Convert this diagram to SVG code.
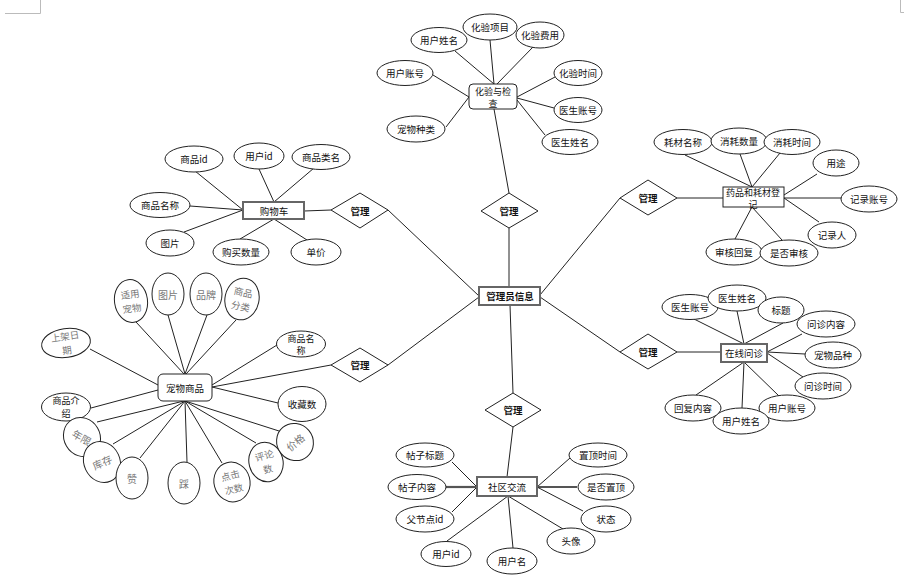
<svg xmlns="http://www.w3.org/2000/svg" width="904" height="577" viewBox="0 0 904 577">
<style>
text{font-family:"Noto Sans CJK SC","Noto Sans",sans-serif;font-size:9.5px;fill:#111;text-anchor:middle;dominant-baseline:central}
.b{font-weight:bold;font-size:9.5px}
.g{fill:#777;font-size:10px}
.s{font-size:9px}
.gs{fill:#777;font-size:9.5px}
.e{fill:#fff;stroke:#222;stroke-width:1}
.d{fill:#fff;stroke:#222;stroke-width:1}
.r{fill:#fff;stroke:#222;stroke-width:1}
.rt{fill:#fff;stroke:#666;stroke-width:2}
#connectors line{stroke:#222;stroke-width:1}
#connectors line.t{stroke:#555;stroke-width:2.2}
.mark{stroke:#bbb;stroke-width:1;fill:none}
</style>
<rect width="904" height="577" fill="#fff"/>
<path class="mark" d="M5 13.5H40.5V0M900.5 0V12.5H904"/>
<g id="connectors">
<line x1="509" y1="287" x2="509" y2="228"/>
<line x1="479" y1="296" x2="388" y2="210"/>
<line x1="479" y1="297" x2="388" y2="365"/>
<line x1="510" y1="305" x2="513" y2="393"/>
<line x1="540" y1="295" x2="620" y2="198"/>
<line x1="540" y1="297" x2="620" y2="352"/>
<line x1="509" y1="193" x2="494" y2="109"/>
<line x1="331" y1="210" x2="304" y2="211"/>
<line x1="331" y1="365" x2="212" y2="387"/>
<line x1="513" y1="427" x2="507" y2="477"/>
<line x1="677" y1="198" x2="723" y2="198"/>
<line x1="677" y1="352" x2="721" y2="352"/>
<line x1="455" y1="51" x2="494" y2="84"/>
<line x1="490" y1="40" x2="494" y2="84"/>
<line x1="533" y1="47" x2="497" y2="84"/>
<line x1="433" y1="75" x2="469" y2="97"/>
<line x1="446" y1="127" x2="469" y2="97"/>
<line x1="555" y1="77" x2="517" y2="97"/>
<line x1="554" y1="108" x2="517" y2="98"/>
<line x1="545" y1="135" x2="517" y2="100"/>
<line x1="195" y1="171" x2="243" y2="210"/>
<line x1="259" y1="169" x2="274" y2="202"/>
<line x1="314" y1="168" x2="274" y2="202"/>
<line x1="190" y1="206" x2="243" y2="210"/>
<line x1="184" y1="232" x2="243" y2="210"/>
<line x1="240" y1="239" x2="274" y2="219"/>
<line x1="307" y1="240" x2="274" y2="219"/>
<line x1="685" y1="155" x2="752" y2="187"/>
<line x1="740" y1="154" x2="752" y2="187"/>
<line x1="780" y1="153" x2="752" y2="187"/>
<line x1="817" y1="174" x2="784" y2="195"/>
<line x1="842" y1="198" x2="784" y2="198"/>
<line x1="819" y1="222" x2="784" y2="198"/>
<line x1="735" y1="239" x2="752" y2="207"/>
<line x1="782" y1="240" x2="752" y2="207"/>
<line x1="694" y1="319" x2="744" y2="344"/>
<line x1="737" y1="311" x2="744" y2="344"/>
<line x1="783" y1="323" x2="744" y2="344"/>
<line x1="802" y1="334" x2="767" y2="352"/>
<line x1="805" y1="354" x2="767" y2="352"/>
<line x1="803" y1="377" x2="767" y2="353"/>
<line x1="779" y1="396" x2="744" y2="362"/>
<line x1="742" y1="408" x2="744" y2="362"/>
<line x1="696" y1="395" x2="744" y2="362"/>
<line x1="452" y1="462" x2="477" y2="487"/>
<line class="t" x1="446" y1="487" x2="477" y2="487"/>
<line x1="452" y1="512" x2="477" y2="487"/>
<line x1="570" y1="458" x2="537" y2="487"/>
<line class="t" x1="577" y1="487" x2="537" y2="487"/>
<line x1="583" y1="511" x2="537" y2="487"/>
<line x1="563" y1="529" x2="508" y2="496"/>
<line x1="513" y1="548" x2="508" y2="496"/>
<line x1="447" y1="541" x2="508" y2="496"/>
<line x1="136" y1="322" x2="184" y2="374"/>
<line x1="168" y1="315" x2="185" y2="374"/>
<line x1="207" y1="315" x2="185" y2="374"/>
<line x1="236" y1="320" x2="186" y2="374"/>
<line x1="90" y1="349" x2="158" y2="385"/>
<line x1="277" y1="345" x2="212" y2="385"/>
<line x1="278" y1="403" x2="212" y2="387"/>
<line x1="91" y1="408" x2="158" y2="390"/>
<line x1="97" y1="422" x2="184" y2="401"/>
<line x1="113" y1="444" x2="185" y2="401"/>
<line x1="140" y1="458" x2="185" y2="401"/>
<line x1="187" y1="462" x2="185" y2="401"/>
<line x1="222" y1="463" x2="185" y2="401"/>
<line x1="256" y1="443" x2="185" y2="401"/>
<line x1="279" y1="431" x2="185" y2="401"/>
</g>

<g id="admin"><rect class="rt" x="479" y="287" width="61" height="18"/><text class="b" x="510" y="296">管理员信息</text></g>

<g id="rel-top"><polygon class="d" points="481,211 509,193 538,211 509,228"/><text class="b" x="509" y="211">管理</text></g>
<g id="rel-cart"><polygon class="d" points="331,210 360,193 388,210 360,228"/><text class="b" x="360" y="211">管理</text></g>
<g id="rel-pet"><polygon class="d" points="331,365 360,348 388,365 360,382"/><text class="b" x="360" y="365">管理</text></g>
<g id="rel-bottom"><polygon class="d" points="485,410 513,393 541,410 513,427"/><text class="b" x="513" y="410">管理</text></g>
<g id="rel-drug"><polygon class="d" points="620,198 648,180 677,198 648,215"/><text class="b" x="648" y="198">管理</text></g>
<g id="rel-consult"><polygon class="d" points="620,352 648,334 677,352 648,369"/><text class="b" x="648" y="352">管理</text></g>

<g id="lab"><rect class="r" x="469" y="84" width="48" height="25" rx="4"/><text class="s" x="493" y="91">化验与检</text><text class="s" x="493" y="103">查</text></g>
<g id="lab-a1"><ellipse class="e" cx="439" cy="40" rx="28" ry="12.5"/><text x="439" y="40">用户姓名</text></g>
<g id="lab-a2"><ellipse class="e" cx="490" cy="27" rx="27" ry="13"/><text x="490" y="27">化验项目</text></g>
<g id="lab-a3"><ellipse class="e" cx="540" cy="35" rx="24" ry="13"/><text x="540" y="35">化验费用</text></g>
<g id="lab-a4"><ellipse class="e" cx="405" cy="73" rx="28" ry="12.5"/><text x="405" y="73">用户账号</text></g>
<g id="lab-a5"><ellipse class="e" cx="578" cy="73" rx="24" ry="12.5"/><text x="578" y="73">化验时间</text></g>
<g id="lab-a6"><ellipse class="e" cx="578" cy="110" rx="24" ry="12.5"/><text x="578" y="110">医生账号</text></g>
<g id="lab-a7"><ellipse class="e" cx="570" cy="142" rx="28" ry="12.5"/><text x="570" y="142">医生姓名</text></g>
<g id="lab-a8"><ellipse class="e" cx="416" cy="129" rx="29" ry="13"/><text x="416" y="129">宠物种类</text></g>

<g id="cart"><rect class="rt" x="243" y="202" width="61" height="17"/><text x="274" y="211">购物车</text></g>
<g id="cart-a1"><ellipse class="e" cx="194" cy="159" rx="29" ry="13"/><text x="194" y="159">商品id</text></g>
<g id="cart-a2"><ellipse class="e" cx="259" cy="156" rx="25" ry="13"/><text x="259" y="156">用户id</text></g>
<g id="cart-a3"><ellipse class="e" cx="321" cy="157" rx="29" ry="12.5"/><text x="321" y="157">商品类名</text></g>
<g id="cart-a4"><ellipse class="e" cx="160" cy="205" rx="30" ry="12.5"/><text x="160" y="205">商品名称</text></g>
<g id="cart-a5"><ellipse class="e" cx="170" cy="243" rx="24" ry="13"/><text x="170" y="243">图片</text></g>
<g id="cart-a6"><ellipse class="e" cx="241" cy="252" rx="28" ry="13"/><text x="241" y="252">购买数量</text></g>
<g id="cart-a7"><ellipse class="e" cx="316" cy="252" rx="25" ry="13"/><text x="316" y="252">单价</text></g>

<g id="drug"><rect class="r" x="723" y="187" width="61" height="20"/><text class="s" x="753" y="192">药品和耗材登</text><text class="s" x="753" y="204">记</text></g>
<g id="drug-a1"><ellipse class="e" cx="683" cy="142" rx="29" ry="12.5"/><text x="683" y="142">耗材名称</text></g>
<g id="drug-a2"><ellipse class="e" cx="739" cy="141" rx="28" ry="13"/><text x="739" y="141">消耗数量</text></g>
<g id="drug-a3"><ellipse class="e" cx="792" cy="142" rx="28" ry="12.5"/><text x="792" y="142">消耗时间</text></g>
<g id="drug-a4"><ellipse class="e" cx="836" cy="163" rx="23" ry="13"/><text x="836" y="163">用途</text></g>
<g id="drug-a5"><ellipse class="e" cx="869" cy="199" rx="28" ry="13"/><text x="869" y="199">记录账号</text></g>
<g id="drug-a6"><ellipse class="e" cx="832" cy="235" rx="24" ry="13"/><text x="832" y="235">记录人</text></g>
<g id="drug-a7"><ellipse class="e" cx="734" cy="252" rx="28" ry="13"/><text x="734" y="252">审核回复</text></g>
<g id="drug-a8"><ellipse class="e" cx="789" cy="253" rx="29" ry="13"/><text x="789" y="253">是否审核</text></g>

<g id="consult"><rect class="rt" x="721" y="344" width="46" height="18"/><text x="744" y="353">在线问诊</text></g>
<g id="con-a1"><ellipse class="e" cx="690" cy="307" rx="28" ry="12.5"/><text x="690" y="307">医生账号</text></g>
<g id="con-a2"><ellipse class="e" cx="737" cy="298" rx="29" ry="13"/><text x="737" y="298">医生姓名</text></g>
<g id="con-a3"><ellipse class="e" cx="781" cy="310" rx="23" ry="13"/><text x="781" y="310">标题</text></g>
<g id="con-a4"><ellipse class="e" cx="826" cy="324" rx="29" ry="13"/><text x="826" y="324">问诊内容</text></g>
<g id="con-a5"><ellipse class="e" cx="833" cy="355" rx="28" ry="13"/><text x="833" y="355">宠物品种</text></g>
<g id="con-a6"><ellipse class="e" cx="823" cy="386" rx="28" ry="13"/><text x="823" y="386">问诊时间</text></g>
<g id="con-a7"><ellipse class="e" cx="787" cy="408" rx="28" ry="13"/><text x="787" y="408">用户账号</text></g>
<g id="con-a8"><ellipse class="e" cx="741" cy="421" rx="28" ry="13"/><text x="741" y="421">用户姓名</text></g>
<g id="con-a9"><ellipse class="e" cx="693" cy="408" rx="28" ry="13"/><text x="693" y="408">回复内容</text></g>

<g id="forum"><rect class="rt" x="477" y="477" width="60" height="19"/><text x="507" y="487">社区交流</text></g>
<g id="for-a1"><ellipse class="e" cx="425" cy="455" rx="29" ry="12"/><text x="425" y="455">帖子标题</text></g>
<g id="for-a2"><ellipse class="e" cx="417" cy="487" rx="29" ry="12.5"/><text x="417" y="487">帖子内容</text></g>
<g id="for-a3"><ellipse class="e" cx="425" cy="519" rx="29" ry="13"/><text x="425" y="519">父节点id</text></g>
<g id="for-a4"><ellipse class="e" cx="446" cy="554" rx="25" ry="12.5"/><text x="446" y="554">用户id</text></g>
<g id="for-a5"><ellipse class="e" cx="512" cy="561" rx="25" ry="13"/><text x="512" y="561">用户名</text></g>
<g id="for-a6"><ellipse class="e" cx="571" cy="541" rx="24" ry="13"/><text x="571" y="541">头像</text></g>
<g id="for-a7"><ellipse class="e" cx="606" cy="519" rx="25" ry="13"/><text x="606" y="519">状态</text></g>
<g id="for-a8"><ellipse class="e" cx="606" cy="487" rx="28" ry="13"/><text x="606" y="487">是否置顶</text></g>
<g id="for-a9"><ellipse class="e" cx="598" cy="455" rx="29" ry="12"/><text x="598" y="455">置顶时间</text></g>

<g id="pet"><rect class="r" x="158" y="374" width="54" height="27" rx="5"/><text x="185" y="388">宠物商品</text></g>
<g id="pet-a1" transform="rotate(-8 131 301)"><ellipse class="e" cx="131" cy="301" rx="16.5" ry="21.5"/><text class="gs" x="131" y="294">适用</text><text class="gs" x="131" y="308">宠物</text></g>
<g id="pet-a2"><ellipse class="e" cx="168" cy="294" rx="16" ry="21"/><text class="g" x="168" y="294">图片</text></g>
<g id="pet-a3"><ellipse class="e" cx="206" cy="294" rx="16" ry="21"/><text class="g" x="206" y="294">品牌</text></g>
<g id="pet-a4" transform="rotate(12 242 299)"><ellipse class="e" cx="242" cy="299" rx="17" ry="21"/><text class="gs" x="242" y="292">商品</text><text class="gs" x="242" y="306">分类</text></g>
<g id="pet-a5" transform="rotate(-8 66 343)"><ellipse class="e" cx="66" cy="343" rx="24.5" ry="14.5"/><text class="gs" x="66" y="336">上架日</text><text class="gs" x="66" y="350">期</text></g>
<g id="pet-a6"><ellipse class="e" cx="301" cy="344" rx="24.5" ry="13"/><text class="s" x="301" y="338">商品名</text><text class="s" x="301" y="350">称</text></g>
<g id="pet-a7"><ellipse class="e" cx="66" cy="407" rx="24.5" ry="14"/><text class="s" x="66" y="400.5">商品介</text><text class="s" x="66" y="413.5">绍</text></g>
<g id="pet-a8"><ellipse class="e" cx="302" cy="404" rx="24" ry="17.5"/><text x="302" y="404">收藏数</text></g>
<g id="pet-a9" transform="rotate(-30 82 437)"><ellipse class="e" cx="82" cy="437" rx="18" ry="20"/><text class="g" x="82" y="437" transform="rotate(60 82 437)">年限</text></g>
<g id="pet-a10" transform="rotate(-25 102 462)"><ellipse class="e" cx="102" cy="462" rx="18" ry="21"/><text class="g" x="102" y="462">库存</text></g>
<g id="pet-a11"><ellipse class="e" cx="132" cy="478" rx="16" ry="21"/><text class="g" x="132" y="478">赞</text></g>
<g id="pet-a12"><ellipse class="e" cx="184" cy="483" rx="16" ry="21"/><text class="g" x="184" y="483">踩</text></g>
<g id="pet-a13" transform="rotate(-15 232 482)"><ellipse class="e" cx="232" cy="482" rx="18" ry="20"/><text class="gs" x="232" y="475">点击</text><text class="gs" x="232" y="489">次数</text></g>
<g id="pet-a14" transform="rotate(-15 266 462)"><ellipse class="e" cx="266" cy="462" rx="17" ry="20"/><text class="gs" x="266" y="455">评论</text><text class="gs" x="266" y="469">数</text></g>
<g id="pet-a15" transform="rotate(-40 295 442)"><ellipse class="e" cx="295" cy="442" rx="18" ry="19"/><text class="g" x="295" y="442">价格</text></g>
</svg>
